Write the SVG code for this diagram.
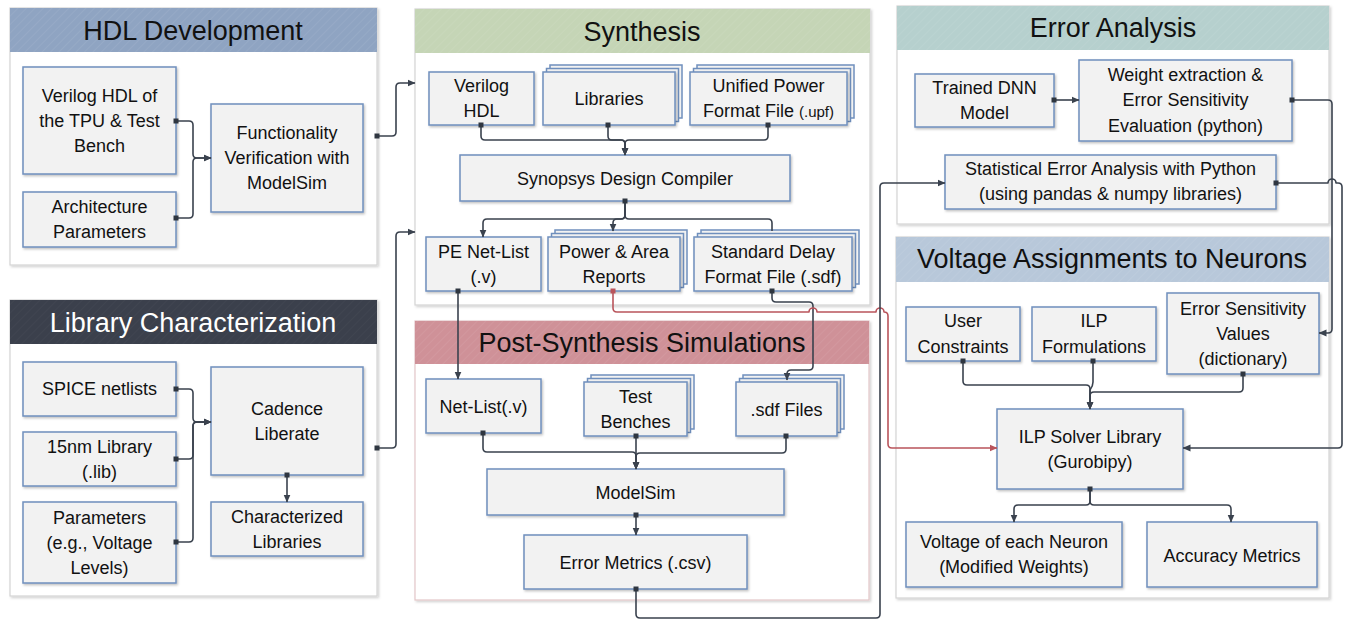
<svg xmlns="http://www.w3.org/2000/svg" width="1347" height="620" viewBox="0 0 1347 620">
  <defs>
    <style>
      .panel { fill: #ffffff; stroke: #d4d4d4; stroke-width: 1.2; filter: url(#panelShadow); }
      .hatch { fill: url(#hatch); }
      .title { font-family: "Liberation Sans", Arial, sans-serif; font-size: 27px; fill: #111111; text-anchor: middle; }
      .node rect { fill: #f2f2f2; stroke: #6f8fbd; stroke-width: 1.5; }
      .node .shadowed { filter: url(#nodeShadow); }
      .node text { font-family: "Liberation Sans", Arial, sans-serif; font-size: 18px; fill: #111111; text-anchor: middle; }
      .small { font-size: 15px; }
      .link { fill: none; stroke: #3a424e; stroke-width: 1.6; stroke-linejoin: round; }
      .link.red { stroke: #b9545b; }
      .dot { fill: #2f3640; }
      .dot.red { fill: #b9545b; }
    </style>
    <pattern id="hatch" width="6" height="6" patternUnits="userSpaceOnUse" patternTransform="rotate(45)">
      <line x1="0" y1="0" x2="0" y2="6" stroke="#ffffff" stroke-opacity="0.12" stroke-width="1"/>
    </pattern>
    <filter id="panelShadow" x="-5%" y="-5%" width="110%" height="110%">
      <feDropShadow dx="1.5" dy="1.5" stdDeviation="1" flood-color="#000000" flood-opacity="0.18"/>
    </filter>
    <filter id="nodeShadow" x="-5%" y="-5%" width="110%" height="115%">
      <feDropShadow dx="1.2" dy="1.5" stdDeviation="0.8" flood-color="#000000" flood-opacity="0.25"/>
    </filter>
    <marker id="arrow" viewBox="0 0 8 8" refX="7.5" refY="4" markerWidth="8" markerHeight="8" markerUnits="userSpaceOnUse" orient="auto">
      <path d="M0,0.5 L8,4 L0,7.5 Z" fill="#3a424e"/>
    </marker>
    <marker id="arrowRed" viewBox="0 0 8 8" refX="7.5" refY="4" markerWidth="8" markerHeight="8" markerUnits="userSpaceOnUse" orient="auto">
      <path d="M0,0.5 L8,4 L0,7.5 Z" fill="#b9545b"/>
    </marker>
  </defs>

  <rect width="1347" height="620" fill="#ffffff"/>

  <!-- Section panels -->
  <g id="panel-hdl">
    <rect class="panel" x="10" y="8" width="367" height="257"/>
    <rect x="10" y="8" width="367" height="44" fill="#8fa4c2"/>
    <rect class="hatch" x="10" y="8" width="367" height="44"/>
    <text class="title" x="193" y="40">HDL Development</text>
  </g>
  <g id="panel-libchar">
    <rect class="panel" x="10" y="300" width="367" height="296"/>
    <rect x="10" y="300" width="367" height="44" fill="#3b404c"/>
    <rect class="hatch" x="10" y="300" width="367" height="44" opacity="0.4"/>
    <text class="title" x="193" y="332" style="fill:#ffffff">Library Characterization</text>
  </g>
  <g id="panel-synthesis">
    <rect class="panel" x="415" y="9" width="455" height="296"/>
    <rect x="415" y="9" width="455" height="44" fill="#c5d5b6"/>
    <rect class="hatch" x="415" y="9" width="455" height="44"/>
    <text class="title" x="642" y="41">Synthesis</text>
  </g>
  <g id="panel-postsynth">
    <rect class="panel" x="415" y="321" width="454" height="279" style="stroke:#e3c6c8"/>
    <rect x="415" y="321" width="454" height="43" fill="#cf9198"/>
    <rect class="hatch" x="415" y="321" width="454" height="43"/>
    <text class="title" x="642" y="352">Post-Synthesis Simulations</text>
  </g>
  <g id="panel-error">
    <rect class="panel" x="897" y="6" width="432" height="218"/>
    <rect x="897" y="6" width="432" height="44" fill="#b6d0ce"/>
    <rect class="hatch" x="897" y="6" width="432" height="44"/>
    <text class="title" x="1113" y="37">Error Analysis</text>
  </g>
  <g id="panel-voltage">
    <rect class="panel" x="896" y="237" width="433" height="361"/>
    <rect x="896" y="237" width="433" height="45" fill="#b8c8da"/>
    <rect class="hatch" x="896" y="237" width="433" height="45"/>
    <text class="title" x="1112" y="268">Voltage Assignments to Neurons</text>
  </g>

  <!-- HDL Development nodes -->
  <g id="n-verilog-tpu" class="node">
    <rect class="shadowed" x="23" y="67" width="153" height="107"/>
    <text x="99.5" y="102">Verilog HDL of</text>
    <text x="99.5" y="127">the TPU &amp; Test</text>
    <text x="99.5" y="152">Bench</text>
  </g>
  <g id="n-arch-params" class="node">
    <rect class="shadowed" x="23" y="192" width="153" height="55"/>
    <text x="99.5" y="213">Architecture</text>
    <text x="99.5" y="238">Parameters</text>
  </g>
  <g id="n-func-verif" class="node">
    <rect class="shadowed" x="211" y="104" width="152" height="108"/>
    <text x="287" y="139">Functionality</text>
    <text x="287" y="164">Verification with</text>
    <text x="287" y="189">ModelSim</text>
  </g>

  <!-- Library Characterization nodes -->
  <g id="n-spice" class="node">
    <rect class="shadowed" x="23" y="362" width="153" height="54"/>
    <text x="99.5" y="395">SPICE netlists</text>
  </g>
  <g id="n-15nm" class="node">
    <rect class="shadowed" x="23" y="432" width="153" height="54"/>
    <text x="99.5" y="453">15nm Library</text>
    <text x="99.5" y="478">(.lib)</text>
  </g>
  <g id="n-lib-params" class="node">
    <rect class="shadowed" x="23" y="502" width="153" height="81"/>
    <text x="99.5" y="524">Parameters</text>
    <text x="99.5" y="549">(e.g., Voltage</text>
    <text x="99.5" y="574">Levels)</text>
  </g>
  <g id="n-cadence" class="node">
    <rect class="shadowed" x="211" y="367" width="152" height="108"/>
    <text x="287" y="415">Cadence</text>
    <text x="287" y="440">Liberate</text>
  </g>
  <g id="n-char-libs" class="node">
    <rect class="shadowed" x="211" y="502" width="152" height="54"/>
    <text x="287" y="523">Characterized</text>
    <text x="287" y="548">Libraries</text>
  </g>

  <!-- Synthesis nodes -->
  <g id="n-verilog-hdl" class="node">
    <rect class="shadowed" x="429" y="72" width="105" height="53"/>
    <text x="481.5" y="92">Verilog</text>
    <text x="481.5" y="117">HDL</text>
  </g>
  <g id="n-libraries" class="node">
    <rect x="550" y="65" width="132" height="53"/>
    <rect x="546.5" y="68.5" width="132" height="53"/>
    <rect class="shadowed" x="543" y="72" width="132" height="53"/>
    <text x="609" y="105">Libraries</text>
  </g>
  <g id="n-upf" class="node">
    <rect x="697" y="65" width="157" height="53"/>
    <rect x="693.5" y="68.5" width="157" height="53"/>
    <rect class="shadowed" x="690" y="72" width="157" height="53"/>
    <text x="768.5" y="92">Unified Power</text>
    <text x="768.5" y="117">Format File <tspan class="small">(.upf)</tspan></text>
  </g>
  <g id="n-dc" class="node">
    <rect class="shadowed" x="460" y="155" width="330" height="46"/>
    <text x="625" y="184.5">Synopsys Design Compiler</text>
  </g>
  <g id="n-pe-netlist" class="node">
    <rect class="shadowed" x="426" y="237" width="115" height="54"/>
    <text x="483.5" y="258">PE Net-List</text>
    <text x="483.5" y="283">(.v)</text>
  </g>
  <g id="n-power-area" class="node">
    <rect x="555" y="230" width="132" height="54"/>
    <rect x="551.5" y="233.5" width="132" height="54"/>
    <rect class="shadowed" x="548" y="237" width="132" height="54"/>
    <text x="614" y="258">Power &amp; Area</text>
    <text x="614" y="283">Reports</text>
  </g>
  <g id="n-sdf" class="node">
    <rect x="701" y="230" width="158" height="54"/>
    <rect x="697.5" y="233.5" width="158" height="54"/>
    <rect class="shadowed" x="694" y="237" width="158" height="54"/>
    <text x="773" y="258">Standard Delay</text>
    <text x="773" y="283">Format File (.sdf)</text>
  </g>

  <!-- Post-Synthesis Simulation nodes -->
  <g id="n-netlist" class="node">
    <rect class="shadowed" x="426" y="379" width="115" height="54"/>
    <text x="483.5" y="413">Net-List(.v)</text>
  </g>
  <g id="n-testbenches" class="node">
    <rect x="591" y="375" width="103" height="54"/>
    <rect x="587.5" y="378.5" width="103" height="54"/>
    <rect class="shadowed" x="584" y="382" width="103" height="54"/>
    <text x="635.5" y="403">Test</text>
    <text x="635.5" y="428">Benches</text>
  </g>
  <g id="n-sdf-files" class="node">
    <rect x="743" y="375" width="101" height="54"/>
    <rect x="739.5" y="378.5" width="101" height="54"/>
    <rect class="shadowed" x="736" y="382" width="101" height="54"/>
    <text x="786.5" y="416">.sdf Files</text>
  </g>
  <g id="n-modelsim" class="node">
    <rect class="shadowed" x="487" y="469" width="297" height="46"/>
    <text x="635.5" y="499">ModelSim</text>
  </g>
  <g id="n-error-metrics" class="node">
    <rect class="shadowed" x="524" y="535" width="223" height="54"/>
    <text x="635.5" y="569">Error Metrics (.csv)</text>
  </g>

  <!-- Error Analysis nodes -->
  <g id="n-dnn" class="node">
    <rect class="shadowed" x="915" y="74" width="139" height="53"/>
    <text x="984.5" y="94">Trained DNN</text>
    <text x="984.5" y="119">Model</text>
  </g>
  <g id="n-weight" class="node">
    <rect class="shadowed" x="1079" y="60" width="213" height="81"/>
    <text x="1185.5" y="81">Weight extraction &amp;</text>
    <text x="1185.5" y="106">Error Sensitivity</text>
    <text x="1185.5" y="132">Evaluation (python)</text>
  </g>
  <g id="n-statistical" class="node">
    <rect class="shadowed" x="945" y="155" width="331" height="54"/>
    <text x="1110.5" y="175">Statistical Error Analysis with Python</text>
    <text x="1110.5" y="200">(using pandas &amp; numpy libraries)</text>
  </g>

  <!-- Voltage Assignment nodes -->
  <g id="n-user" class="node">
    <rect class="shadowed" x="906" y="307" width="114" height="54"/>
    <text x="963" y="327">User</text>
    <text x="963" y="353">Constraints</text>
  </g>
  <g id="n-ilp-form" class="node">
    <rect class="shadowed" x="1032" y="307" width="124" height="54"/>
    <text x="1094" y="327">ILP</text>
    <text x="1094" y="353">Formulations</text>
  </g>
  <g id="n-err-sens" class="node">
    <rect class="shadowed" x="1167" y="293" width="152" height="81"/>
    <text x="1243" y="315">Error Sensitivity</text>
    <text x="1243" y="340">Values</text>
    <text x="1243" y="365">(dictionary)</text>
  </g>
  <g id="n-ilp-solver" class="node">
    <rect class="shadowed" x="997" y="409" width="186" height="80"/>
    <text x="1090" y="443">ILP Solver Library</text>
    <text x="1090" y="468">(Gurobipy)</text>
  </g>
  <g id="n-voltage-neuron" class="node">
    <rect class="shadowed" x="906" y="522" width="216" height="65"/>
    <text x="1014" y="548">Voltage of each Neuron</text>
    <text x="1014" y="573">(Modified Weights)</text>
  </g>
  <g id="n-accuracy" class="node">
    <rect class="shadowed" x="1147" y="522" width="170" height="65"/>
    <text x="1232" y="562">Accuracy Metrics</text>
  </g>

  <!-- Connectors -->
  <g id="connectors">
    <!-- HDL Development -->
    <path class="link" d="M176,121 H189 Q193,121 193,125 V154 Q193,158 197,158 H211" marker-end="url(#arrow)"/>
    <path class="link" d="M176,218 H189 Q193,218 193,214 V162 Q193,158 197,158 H211" marker-end="url(#arrow)"/>
    <path class="link" d="M377,136 H392 Q396,136 396,132 V87 Q396,83 400,83 H415" marker-end="url(#arrow)"/>

    <!-- Library Characterization -->
    <path class="link" d="M176,389 H189 Q193,389 193,393 V418 Q193,422 197,422 H211" marker-end="url(#arrow)"/>
    <path class="link" d="M176,459 H189 Q193,459 193,455 V426 Q193,422 197,422 H211" marker-end="url(#arrow)"/>
    <path class="link" d="M176,542 H189 Q193,542 193,538 V426 Q193,422 197,422 H211" marker-end="url(#arrow)"/>
    <path class="link" d="M287,475 V502" marker-end="url(#arrow)"/>
    <path class="link" d="M377,448 H392 Q396,448 396,444 V236 Q396,232 400,232 H415" marker-end="url(#arrow)"/>

    <!-- Synthesis -->
    <path class="link" d="M481,125 V136 Q481,140 485,140 H621 Q625,140 625,144 V155" marker-end="url(#arrow)"/>
    <path class="link" d="M608,125 V136 Q608,140 612,140 H621 Q625,140 625,144 V155" marker-end="url(#arrow)"/>
    <path class="link" d="M768,125 V136 Q768,140 764,140 H629 Q625,140 625,144 V155" marker-end="url(#arrow)"/>
    <path class="link" d="M625,201 V215 Q625,219 621,219 H487 Q483,219 483,223 V237" marker-end="url(#arrow)"/>
    <path class="link" d="M625,201 V215 Q625,219 621,219 H617 Q613,219 613,223 V231" marker-end="url(#arrow)"/>
    <path class="link" d="M625,201 V215 Q625,219 629,219 H768 Q772,219 772,223 V231"/>

    <!-- Synthesis to Post-Synthesis -->
    <path class="link" d="M458,291 V379" marker-end="url(#arrow)"/>
    <path class="link" d="M772,291 V298 Q772,302 776,302 H809 Q813,302 813,306 V366 Q813,370 809,370 H791 Q787,370 787,374 V380" marker-end="url(#arrow)"/>
    <path class="link red" d="M613,291 V308 Q613,312 617,312 H809 A4,4 0 0 1 817,312 H876 A4,4 0 0 1 884,312 Q888,312 888,316 V444 Q888,448 892,448 H997" marker-end="url(#arrowRed)"/>

    <!-- Post-Synthesis -->
    <path class="link" d="M483,433 V448 Q483,452 487,452 H632 Q636,452 636,456 V469" marker-end="url(#arrow)"/>
    <path class="link" d="M636,436 V469" marker-end="url(#arrow)"/>
    <path class="link" d="M786,436 V449 Q786,453 782,453 H640 Q636,453 636,457 V469" marker-end="url(#arrow)"/>
    <path class="link" d="M636,515 V535" marker-end="url(#arrow)"/>
    <path class="link" d="M636,589 V614 Q636,618 640,618 H876 Q880,618 880,614 V187 Q880,183 884,183 H945" marker-end="url(#arrow)"/>

    <!-- Error Analysis -->
    <path class="link" d="M1054,100 H1079" marker-end="url(#arrow)"/>
    <path class="link" d="M1292,100 H1328 Q1332,100 1332,104 V329 Q1332,333 1328,333 H1319" marker-end="url(#arrow)"/>
    <path class="link" d="M1276,183 H1328 A4,4 0 0 1 1336,183 H1338 Q1342,183 1342,187 V444 Q1342,448 1338,448 H1183" marker-end="url(#arrow)"/>

    <!-- Voltage Assignments -->
    <path class="link" d="M963,361 V381 Q963,385 967,385 H1086 Q1090,385 1090,389 V409" marker-end="url(#arrow)"/>
    <path class="link" d="M1093,361 V382 Q1093,386 1090,390 V409" marker-end="url(#arrow)"/>
    <path class="link" d="M1243,374 V388 Q1243,392 1239,392 H1094 Q1090,392 1090,396 V409" marker-end="url(#arrow)"/>
    <path class="link" d="M1090,489 V501 Q1090,505 1086,505 H1018 Q1014,505 1014,509 V522" marker-end="url(#arrow)"/>
    <path class="link" d="M1090,489 V501 Q1090,505 1094,505 H1227 Q1231,505 1231,509 V522" marker-end="url(#arrow)"/>

    <!-- Source ports -->
    <rect class="dot" x="173.5" y="118.5" width="5" height="5"/>
    <rect class="dot" x="173.5" y="215.5" width="5" height="5"/>
    <rect class="dot" x="374.5" y="133.5" width="5" height="5"/>
    <rect class="dot" x="374.5" y="445.5" width="5" height="5"/>
    <rect class="dot" x="173.5" y="386.5" width="5" height="5"/>
    <rect class="dot" x="173.5" y="456.5" width="5" height="5"/>
    <rect class="dot" x="173.5" y="539.5" width="5" height="5"/>
    <rect class="dot" x="284.5" y="472.5" width="5" height="5"/>
    <rect class="dot" x="478.5" y="122.5" width="5" height="5"/>
    <rect class="dot" x="605.5" y="122.5" width="5" height="5"/>
    <rect class="dot" x="765.5" y="122.5" width="5" height="5"/>
    <rect class="dot" x="622.5" y="198.5" width="5" height="5"/>
    <rect class="dot" x="455.5" y="288.5" width="5" height="5"/>
    <rect class="dot red" x="610.5" y="288.5" width="5" height="5"/>
    <rect class="dot" x="769.5" y="288.5" width="5" height="5"/>
    <rect class="dot" x="480.5" y="430.5" width="5" height="5"/>
    <rect class="dot" x="633.5" y="433.5" width="5" height="5"/>
    <rect class="dot" x="783.5" y="433.5" width="5" height="5"/>
    <rect class="dot" x="633.5" y="512.5" width="5" height="5"/>
    <rect class="dot" x="633.5" y="586.5" width="5" height="5"/>
    <rect class="dot" x="1051.5" y="97.5" width="5" height="5"/>
    <rect class="dot" x="1289.5" y="97.5" width="5" height="5"/>
    <rect class="dot" x="1273.5" y="180.5" width="5" height="5"/>
    <rect class="dot" x="960.5" y="358.5" width="5" height="5"/>
    <rect class="dot" x="1090.5" y="358.5" width="5" height="5"/>
    <rect class="dot" x="1240.5" y="371.5" width="5" height="5"/>
    <rect class="dot" x="1087.5" y="486.5" width="5" height="5"/>
  </g>
</svg>
